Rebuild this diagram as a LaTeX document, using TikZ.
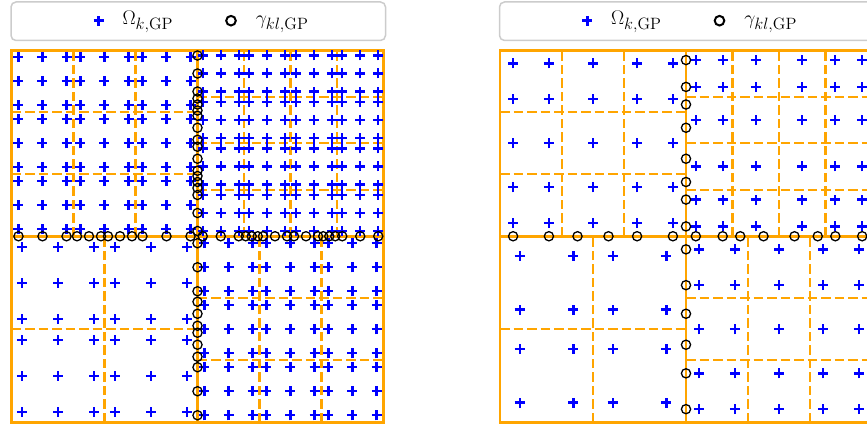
\documentclass[tikz,border=0pt]{standalone}
\usepackage{amsmath}
\DeclareMathSizes{17.28}{17.28}{14.4}{12}

\definecolor{mplorange}{HTML}{FFA500}
\definecolor{mplblue}{HTML}{0000FF}
\definecolor{legedge}{HTML}{CCCCCC}

\tikzset{
  elem/.style={mplorange, line width=2.3pt, dash pattern=on 9.5pt off 4pt},
  subdom/.style={mplorange, line width=2.7pt},
  igp/.style={black, line width=1.3pt},
  legbox/.style={draw=legedge, line width=1.5pt, rounded corners=5pt, fill=white},
  legtext/.style={anchor=base west, inner sep=0pt, scale=1.14, transform shape,
    font=\fontsize{17.28}{20}\selectfont},
  gp/.pic={\draw[mplblue, line width=2.3pt] (-5pt,0pt) -- (5pt,0pt) (0pt,-5pt) -- (0pt,5pt);},
  gpleg/.pic={\draw[mplblue, line width=3pt] (-5pt,0pt) -- (5pt,0pt) (0pt,-5pt) -- (0pt,5pt);}
}

% Gauss-Legendre abscissae on [0,1]
\newcommand{\gausslist}[2]{\ifcase#2\or\def#1{0.5}\or\def#1{0.2113,0.7887}\or\def#1{0.1127,0.5,0.8873}\fi}
% points per element: #4=3 -> 3 everywhere, #4=2 -> 2 at the ends, 1 inside
\newcommand{\ptsof}[4]{%
  \ifnum#4=3 \gausslist{#1}{3}%
  \else\ifnum#2=1 \gausslist{#1}{2}%
  \else\ifnum#2=#3 \gausslist{#1}{2}%
  \else \gausslist{#1}{1}\fi\fi\fi}

% dashed element lines inside one subdomain
\newcommand{\elems}[3]{%
  \pgfmathsetmacro{\hh}{0.5/#3}
  \pgfmathtruncatemacro{\nin}{#3-1}
  \foreach \i in {1,...,\nin}{
    \draw[elem] ({#1+\i*\hh},#2) -- ++(0,0.5);
    \draw[elem] (#1,{#2+\i*\hh}) -- ++(0.5,0);
  }}

\newcommand{\gpts}[4]{%
  \pgfmathsetmacro{\hh}{0.5/#3}
  \foreach \i in {1,...,#3}{
    \foreach \j in {1,...,#3}{
      \ptsof{\lx}{\i}{#3}{#4}\ptsof{\ly}{\j}{#3}{#4}
      \foreach \a in \lx {
        \foreach \b in \ly {
          \pic at ({#1+(\i-1+\a)*\hh},{#2+(\j-1+\b)*\hh}) {gp};
        }
      }
    }
  }}

% interface points: segment a/b with n Gauss points, on x=0.5 and y=0.5
\newcommand{\ifpts}[1]{%
  \foreach \a/\b/\n in {#1}{
    \gausslist{\lt}{\n}
    \foreach \t in \lt {
      \draw[igp] (0.5,{\a+\t*(\b-\a)}) circle[radius=4.6pt];
      \draw[igp] ({\a+\t*(\b-\a)},0.5) circle[radius=4.6pt];
    }
  }}

\begin{document}
\begin{tikzpicture}[x=1pt,y=1pt]
  \useasboundingbox (0,0) rectangle (867,425);
  \clip (0,0) rectangle (867,425);

  % left: three points per element
  \begin{scope}[shift={(11.5pt,2.75pt)}, x=372pt, y=372pt]
    \elems{0}{0.5}{3} \elems{0.5}{0.5}{4} \elems{0}{0}{2} \elems{0.5}{0}{3}
    \draw[subdom] (0,0) rectangle (1,1) (0.5,0) -- (0.5,1) (0,0.5) -- (1,0.5);
    \gpts{0}{0.5}{3}{3} \gpts{0.5}{0.5}{4}{3} \gpts{0}{0}{2}{3} \gpts{0.5}{0}{3}{3}
    \ifpts{0/0.1667/3, 0.1667/0.25/3, 0.25/0.3333/3, 0.3333/0.5/3, 0.5/0.625/3,
           0.625/0.6667/3, 0.6667/0.75/3, 0.75/0.8333/3, 0.8333/0.875/3, 0.875/1/3}
  \end{scope}

  % right: reduced points
  \begin{scope}[shift={(500pt,2.75pt)}, x=372pt, y=372pt]
    \elems{0}{0.5}{3} \elems{0.5}{0.5}{4} \elems{0}{0}{2} \elems{0.5}{0}{3}
    \draw[subdom] (0,0) rectangle (1,1) (0.5,0) -- (0.5,1) (0,0.5) -- (1,0.5);
    \gpts{0}{0.5}{3}{2} \gpts{0.5}{0.5}{4}{2} \gpts{0}{0}{2}{2} \gpts{0.5}{0}{3}{2}
    \ifpts{0/0.1667/2, 0.1667/0.25/1, 0.25/0.3333/1, 0.3333/0.5/2, 0.5/0.625/2,
           0.625/0.6667/1, 0.6667/0.75/1, 0.75/0.8333/1, 0.8333/0.875/1, 0.875/1/2}
  \end{scope}

  % legends
  \foreach \dx/\nm in {0/l, 488.5/r}{
    \draw[legbox] ({11+\dx},384.5) rectangle ({385.5+\dx},423);
    \pic at ({98.5+\dx},404.3) {gpleg};
    \node[legtext] (omega\nm) at ({122.3+\dx},400.5) {$\Omega_{k,\mathrm{GP}}$};
    \draw[black, line width=2pt] ({231+\dx},404.3) circle[radius=4.8pt];
    \node[legtext] (gamma\nm) at ({255.7+\dx},400.5) {$\gamma_{kl,\mathrm{GP}}$};
  }
\end{tikzpicture}
\end{document}
